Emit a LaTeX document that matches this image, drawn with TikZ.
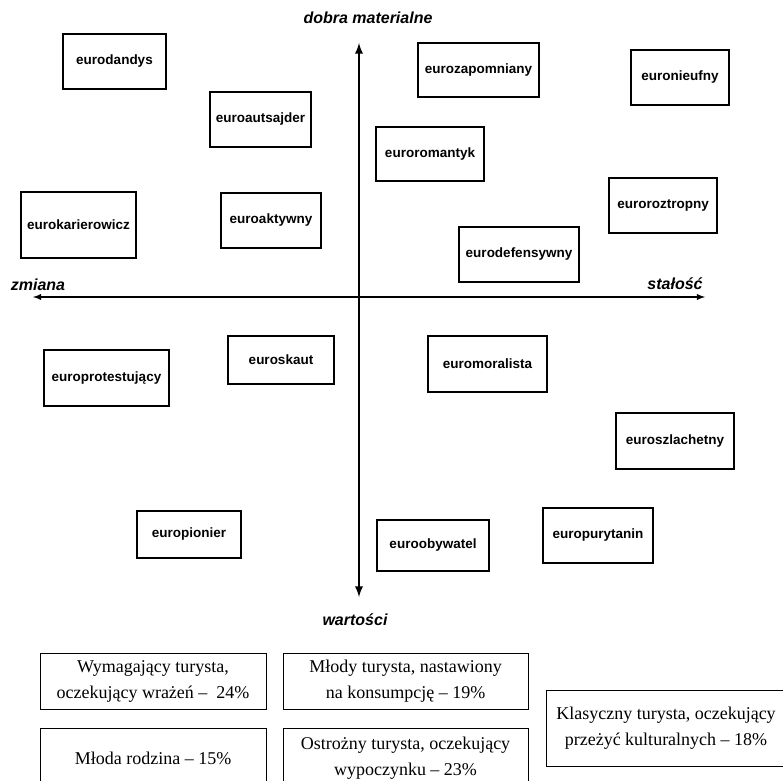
\documentclass[tikz,border=0pt]{standalone}
\usepackage{fontspec}
\setmainfont{Liberation Serif}
\setsansfont{Liberation Sans}
\usepackage{tikz}
\usetikzlibrary{arrows}

\begin{document}
\begin{tikzpicture}[x=1pt,y=1pt,
			typ node/.style={draw,line width=1.2pt,inner sep=0pt,minimum height=55pt,
				font=\sffamily\bfseries\fontsize{13.5}{16}\selectfont},
			grupa node/.style={draw,line width=1pt,inner sep=0pt,align=center,
				font=\fontsize{18}{26}\selectfont},
			os node/.style={font=\sffamily\bfseries\itshape\fontsize{16}{18}\selectfont}]
			
			\clip (0,0) rectangle (783,780);
			
			% osie
			\coordinate (W) at (33,483);
			\coordinate (E) at (705,483);
			\coordinate (N) at (359,737);
			\coordinate (S) at (359,183);
			\draw[latex-latex,line width=1.8pt] (W) -- (E);
			\draw[latex-latex,line width=2.6pt] (S) -- (N);
			\node[os node] (dobra) at (368,762) {dobra materialne};
			\node[os node] (wart) at (355,160) {wartości};
			\node[os node] (zmiana) at (38,495) {zmiana};
			\node[os node] (stalosc) at (675,496) {stałość};
			
			% typy
			\node[typ node,minimum width=103pt] (dandys) at (114.5,718.5) {eurodandys};
			\node[typ node,minimum width=101pt] (autsajder) at (260.5,660.5) {euroautsajder};
			\node[typ node,minimum width=115pt,minimum height=66pt] (karierowicz) at (78.5,555) {eurokarierowicz};
			\node[typ node,minimum width=100pt] (aktywny) at (271,559.5) {euroaktywny};
			\node[typ node,minimum width=121pt,minimum height=54pt] (zapomniany) at (478.5,710) {eurozapomniany};
			\node[typ node,minimum width=98pt] (nieufny) at (680,702.5) {euronieufny};
			\node[typ node,minimum width=108pt,minimum height=54pt] (romantyk) at (430,626) {euroromantyk};
			\node[typ node,minimum width=108pt] (roztropny) at (663,574.5) {euroroztropny};
			\node[typ node,minimum width=120pt] (defensywny) at (519,525.5) {eurodefensywny};
			\node[typ node,minimum width=125pt,minimum height=56pt] (protestujacy) at (106.5,402) {europrotestujący};
			\node[typ node,minimum width=106pt,minimum height=48pt] (skaut) at (281,420) {euroskaut};
			\node[typ node,minimum width=119pt,minimum height=56pt] (moralista) at (487.5,416) {euromoralista};
			\node[typ node,minimum width=118pt,minimum height=56pt] (szlachetny) at (675,339) {euroszlachetny};
			\node[typ node,minimum width=104pt,minimum height=47pt] (pionier) at (189,245.5) {europionier};
			\node[typ node,minimum width=112pt,minimum height=51pt] (obywatel) at (433,234.5) {euroobywatel};
			\node[typ node,minimum width=110pt] (purytanin) at (598,244.5) {europurytanin};
			
			% grupy turystow
			\node[grupa node,minimum width=226pt,minimum height=56pt] (wymagajacy) at (153,99)
				{Wymagający turysta,\\oczekujący wrażeń –\ \ 24\%};
			\node[grupa node,minimum width=245pt,minimum height=56pt] (mlody) at (405.5,99)
				{Młody turysta, nastawiony\\na konsumpcję – 19\%};
			\node[grupa node,minimum width=226pt,minimum height=60pt] (rodzina) at (153,22)
				{Młoda rodzina – 15\%};
			\node[grupa node,minimum width=245pt,minimum height=60pt] (ostrozny) at (405.5,22)
				{Ostrożny turysta, oczekujący\\wypoczynku – 23\%};
			\node[grupa node,minimum width=240pt,minimum height=76pt] (klasyczny) at (666,52)
				{Klasyczny turysta, oczekujący\\przeżyć kulturalnych – 18\%};
		\end{tikzpicture}
\end{document}
